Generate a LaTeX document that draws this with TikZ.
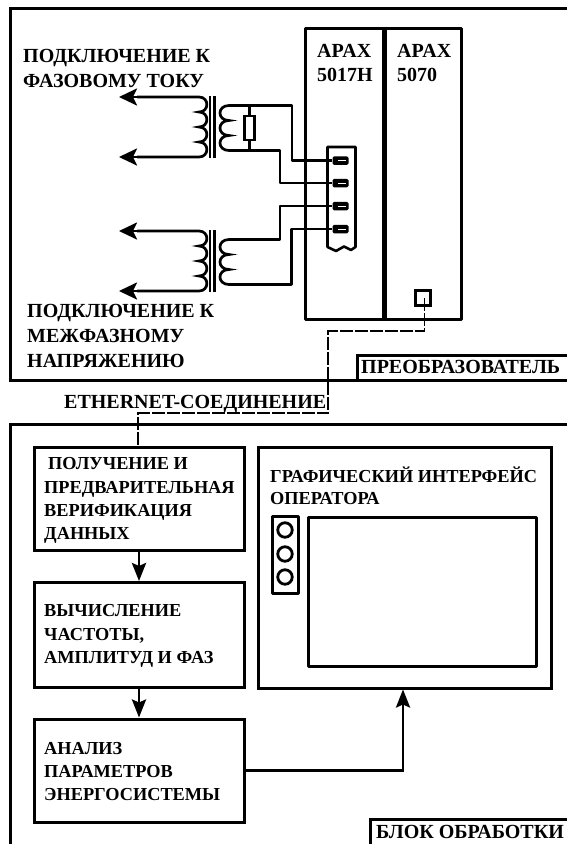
\documentclass[tikz,border=0pt]{standalone}
\usepackage{fontspec}
\setmainfont{Liberation Serif}[BoldFont={Liberation Serif Bold}]
\usetikzlibrary{arrows.meta,calc}
\tikzset{
  frameline/.style={line width=3pt,line join=miter},
  boxn/.style={draw,line width=3pt,inner sep=0pt,fill=white},
  thinbox/.style={draw,line width=3pt,inner sep=0pt,line join=round},
  wire/.style={line width=2.9pt,line join=round},
  heavy/.style={line width=2.9pt,line join=miter},
  tip/.style={-{Stealth[length=18pt,width=17pt,inset=4pt]}},
  tipb/.style={-{Stealth[length=18pt,width=14pt,inset=3pt]}},
  lan/.style={line width=1.5pt,dash pattern=on 13pt off 2pt},
  lbl/.style={font=\bfseries\fontsize{20}{22}\selectfont,anchor=base west,inner sep=0pt},
  lbs/.style={font=\bfseries\fontsize{18.3}{20}\selectfont,anchor=base west,inner sep=0pt},
  pin/.style={fill=black,rounded corners=1.5pt,minimum width=16pt,minimum height=8.5pt,inner sep=0pt},
  coilp/.style={line width=2.7pt},
}
\newcommand{\lobes}[2]{%
 \foreach \i in {1,...,#1}{ .. controls +(#2,0) and +(#2,0) .. ++(0,15)}}
\begin{document}
\begin{tikzpicture}[x=1pt,y=-1pt]
\useasboundingbox (0,0) rectangle (567,844);
\fill[white] (0,0) rectangle (567,844);
% outer frames
\draw[frameline] (575,8) -- (10,8) -- (10,380) -- (575,380);
\draw[frameline] (575,424) -- (10,424) -- (10,855);
% labels in frames
\draw[frameline] (357,380) -- (357,355) -- (575,355);
\draw[frameline] (370,855) -- (370,819.5) -- (575,819.5);
\node[lbl] (lconv) at (361,373) {ПРЕОБРАЗОВАТЕЛЬ};
\node[lbl] (lproc) at (376,838) {БЛОК ОБРАБОТКИ};
% APAX modules
\node[thinbox,minimum width=78pt,minimum height=291pt] (m1) at (344,173.5) {};
\node[thinbox,minimum width=78pt,minimum height=291pt] (m2) at (422,173.5) {};
\draw[line width=4.5pt] (m1.north east) -- (m1.south east);
\node[lbl] (t1a) at (317,57) {APAX};
\node[lbl] (t1b) at (317,81) {5017H};
\node[lbl] (t2a) at (397,57) {APAX};
\node[lbl] (t2b) at (397,81) {5070};
% terminal strip
\draw[line width=2.6pt,line join=round,fill=white] (327.5,247) -- (327.5,147) -- (355.5,147) -- (355.5,247)
  .. controls (353,249) .. (351,250) .. controls (347,248) .. (344,246.5) .. controls (340,248) .. (336,251) .. controls (332,249) .. cycle;
\foreach \n/\y in {p1/160.5,p2/183,p3/206,p4/229}{
  \node[pin] (\n) at (340.5,\y) {};
  \draw[white,line width=.6pt] (338,\y) -- (346,\y);
}
% transformers
\coordinate (a1) at (137,97);
\coordinate (a2) at (137,157);
\draw[coilp] (a1) -- (199,97) \lobes{4}{10.5} -- (a2);
\coordinate (a3) at (137,231);
\coordinate (a4) at (137,291);
\draw[coilp] (a3) -- (199,231) \lobes{4}{10.5} -- (a4);
\draw[coilp,tip] (160,97) -- (119,97);
\draw[coilp,tip] (160,157) -- (119,157);
\draw[coilp,tip] (160,231) -- (119,231);
\draw[coilp,tip] (160,291) -- (119,291);
\foreach \x in {210,214.5}{
  \draw[line width=2.4pt] (\x,96) -- (\x,158);
  \draw[line width=2.4pt] (\x,230) -- (\x,292);
}
\coordinate (s1) at (229,105.5);
\coordinate (s2) at (229,150.5);
\coordinate (s3) at (229,239.5);
\coordinate (s4) at (229,284.5);
\draw[coilp] (s1) \lobes{3}{-12};
\draw[coilp] (s3) \lobes{3}{-12};
% resistor
\node[draw,line width=2.6pt,minimum width=10pt,minimum height=24pt,inner sep=0pt] (r) at (249.5,128) {};
\coordinate (rt) at (249.5,105.5);
\coordinate (rb) at (249.5,150.5);
\draw[wire] (rt) -- (r.north) (r.south) -- (rb);
% wires to terminals
\draw[wire] (s1) -- (292,105.5) |- (p1.west);
\draw[wire] (s2) -- (280,150.5) |- (p2.west);
\draw[wire] (s3) -- (280,239.5) |- (p3.west);
\draw[wire] (s4) -- (291.5,284.5) |- (p4.west);
% Ethernet port and link
\node[draw,line width=2.8pt,minimum width=15pt,minimum height=15pt,inner sep=0pt] (port) at (423,298) {};
\node[boxn,minimum width=210pt,minimum height=103pt] (b1) at (139,498.5) {};
\coordinate (l0) at (424.5,298);
\coordinate (l1) at (424.5,331);
\coordinate (l2) at (328,331);
\coordinate (l3) at (328,413);
\coordinate (l4) at (138,413);
\draw[lan] (l0) -- (l1) -- (l2) -- (l3) -- (l4) -- (l4|-b1.north);
\node[lbl] (leth) at (64,408) {ETHERNET-СОЕДИНЕНИЕ};
% top labels
\node[lbl] at (23,62) (c1) {ПОДКЛЮЧЕНИЕ К};
\node[lbl] at (23,87) (c2) {ФАЗОВОМУ ТОКУ};
\node[lbl] at (27,317) (c3) {ПОДКЛЮЧЕНИЕ К};
\node[lbl] at (27,342) (c4) {МЕЖФАЗНОМУ};
\node[lbl] at (27,367) (c5) {НАПРЯЖЕНИЮ};
% processing boxes
\node[boxn,minimum width=210pt,minimum height=105pt] (b2) at (139,635) {};
\node[boxn,minimum width=210pt,minimum height=103pt] (b3) at (139,770.5) {};
\node[boxn,minimum width=293pt,minimum height=241pt] (g) at (404.5,567.5) {};
\node[lbs] (x1) at (48,469) {ПОЛУЧЕНИЕ И};
\node[lbs] (x2) at (44,493) {ПРЕДВАРИТЕЛЬНАЯ};
\node[lbs] (x3) at (44,516) {ВЕРИФИКАЦИЯ};
\node[lbs] (x4) at (44,539) {ДАННЫХ};
\node[lbs] (y1) at (44,616) {ВЫЧИСЛЕНИЕ};
\node[lbs] (y2) at (44,640) {ЧАСТОТЫ,};
\node[lbs] (y3) at (44,663) {АМПЛИТУД И ФАЗ};
\node[lbs] (z1) at (44,754) {АНАЛИЗ};
\node[lbs] (z2) at (44,777) {ПАРАМЕТРОВ};
\node[lbs] (z3) at (44,800) {ЭНЕРГОСИСТЕМЫ};
\node[lbs] (g1) at (270,482) {ГРАФИЧЕСКИЙ ИНТЕРФЕЙС};
\node[lbs] (g2) at (270,504) {ОПЕРАТОРА};
\node[thinbox,minimum width=26pt,minimum height=77pt] (kn) at (285,555) {};
\foreach \n/\y in {k1/530,k2/554,k3/577}{
  \node[draw,circle,line width=2.8pt,minimum size=14.5pt,inner sep=0pt] (\n) at (285,\y) {};
}
\node[thinbox,minimum width=228pt,minimum height=149pt] (scr) at (422,591.5) {};
% flow
\draw[heavy,tipb] (b1.south) -- (b2.north);
\draw[heavy,tipb] (b2.south) -- (b3.north);
\draw[heavy,tipb] (b3.east) -| (g.south -| 403,0);
\end{tikzpicture}
\end{document}
